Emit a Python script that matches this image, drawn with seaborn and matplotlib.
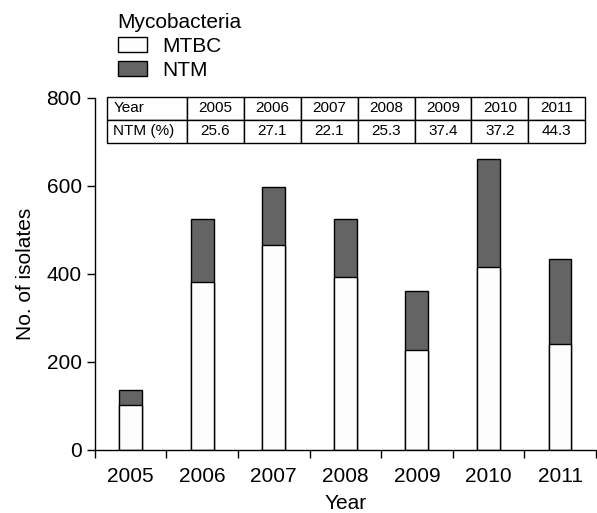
import matplotlib
matplotlib.use("Agg")
import matplotlib.pyplot as plt
import seaborn as sns
import pandas as pd
import numpy as np
from matplotlib.patches import Patch
from matplotlib.ticker import FixedLocator

years = ["2005", "2006", "2007", "2008", "2009", "2010", "2011"]
mtbc = [102, 382, 465, 392, 226, 415, 241]
ntm = [35, 142, 133, 133, 135, 246, 192]
ntm_pct = ["25.6", "27.1", "22.1", "25.3", "37.4", "37.2", "44.3"]
yticks = [0, 200, 400, 600, 800]

sns.set_style("ticks")
plt.rcParams['font.family'] = ['Liberation Sans', 'DejaVu Sans']
plt.rcParams.update({'text.color': 'black', 'axes.labelcolor': 'black',
                     'xtick.color': 'black', 'ytick.color': 'black',
                     'axes.edgecolor': 'black'})

df = pd.DataFrame({"Year": years, "MTBC": mtbc, "NTM": ntm})
df["Total"] = df["MTBC"] + df["NTM"]

fig = plt.figure(figsize=(5.97, 5.13), dpi=100)
ax = fig.add_axes([0.159, 0.123, 0.839, 0.686])

bw = 0.32
sns.barplot(data=df, x="Year", y="Total", color="#646464", edgecolor="black",
            linewidth=1.0, width=bw, saturation=1, ax=ax)
sns.barplot(data=df, x="Year", y="MTBC", color="#fdfdfd", edgecolor="black",
            linewidth=1.0, width=bw, saturation=1, ax=ax)

ax.set_xlim(-0.5, len(years) - 0.5)
ax.set_ylim(0, 800)
ax.set_yticks(yticks)
ax.tick_params(axis='y', labelsize=15, length=5.5, width=1, color='black', direction='out', pad=4)
ax.set_xticks(range(len(years)))
ax.set_xticklabels(years)
ax.tick_params(axis='x', which='major', labelsize=15, length=0, pad=12)
ax.xaxis.set_minor_locator(FixedLocator(np.arange(-0.5, len(years), 1.0)))
ax.tick_params(axis='x', which='minor', length=6, width=1, color='black', direction='out')
for s in ['top', 'right']:
    ax.spines[s].set_visible(False)
for s in ['left', 'bottom']:
    ax.spines[s].set_linewidth(1)
    ax.spines[s].set_color('black')

ax.set_xlabel("Year", fontsize=15, labelpad=6)
ax.set_ylabel("No. of isolates", fontsize=15, labelpad=8)

# table
cell_text = [["Year"] + years, ["NTM (%)"] + ntm_pct]
tb = ax.table(cellText=cell_text, cellLoc='center',
              bbox=[0.024, 0.873, 0.955, 0.13],
              colWidths=[80] + [57] * len(years))
tb.auto_set_font_size(False)
tb.set_fontsize(11)
for (r, c), cell in tb.get_celld().items():
    cell.set_linewidth(1)
    cell.set_edgecolor('black')
    cell.set_facecolor('white')
    cell.get_text().set_color('black')
    if c == 0:
        cell.set_text_props(ha='left')
        cell.PAD = 0.08

handles = [Patch(facecolor="#fdfdfd", edgecolor="black", linewidth=1, label="MTBC"),
           Patch(facecolor="#646464", edgecolor="black", linewidth=1, label="NTM")]
leg = fig.legend(handles=handles, title="Mycobacteria", loc='upper left',
                 bbox_to_anchor=(0.176, 1.0), frameon=False, fontsize=15,
                 title_fontsize=15, handlelength=1.4, handleheight=0.75,
                 handletextpad=0.75, labelspacing=0.25, borderpad=0.1,
                 alignment='left')

fig.savefig("out.png", dpi=100)
